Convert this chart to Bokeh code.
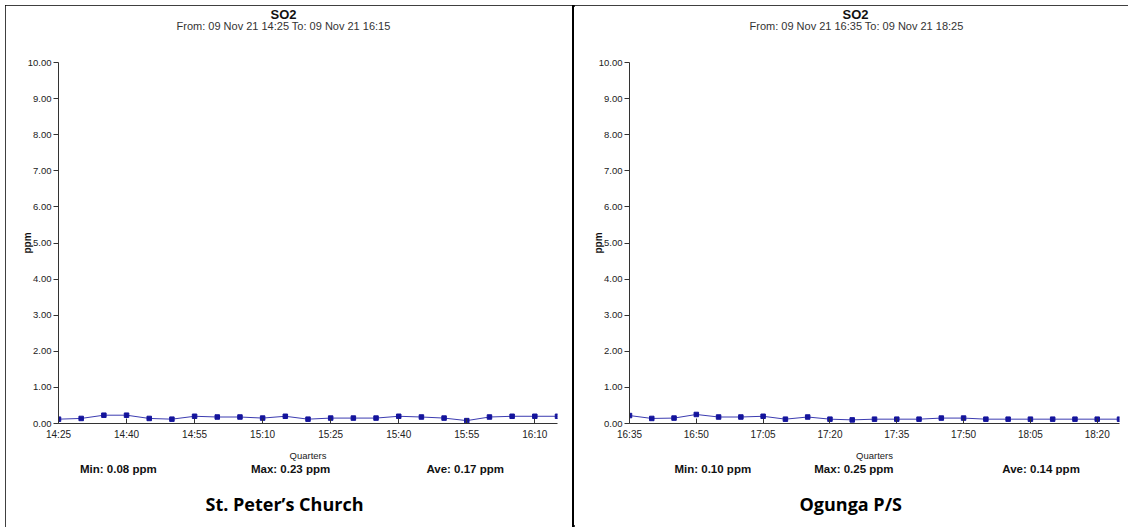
from bokeh.plotting import figure
from bokeh.layouts import row
from bokeh.models import Range1d, FixedTicker, Title, Div, LinearAxis
from bokeh.embed import file_html
from bokeh.resources import INLINE

# ---------------- data ----------------
times_left = ["14:25", "14:30", "14:35", "14:40", "14:45", "14:50", "14:55", "15:00",
              "15:05", "15:10", "15:15", "15:20", "15:25", "15:30", "15:35", "15:40",
              "15:45", "15:50", "15:55", "16:00", "16:05", "16:10", "16:15"]
so2_left = [0.12, 0.14, 0.23, 0.23, 0.14, 0.12, 0.20, 0.18, 0.18, 0.15, 0.20, 0.12,
            0.15, 0.15, 0.15, 0.20, 0.18, 0.15, 0.08, 0.18, 0.20, 0.20, 0.20]
ticks_left = ["14:25", "14:40", "14:55", "15:10", "15:25", "15:40", "15:55", "16:10"]

times_right = ["16:35", "16:40", "16:45", "16:50", "16:55", "17:00", "17:05", "17:10",
               "17:15", "17:20", "17:25", "17:30", "17:35", "17:40", "17:45", "17:50",
               "17:55", "18:00", "18:05", "18:10", "18:15", "18:20", "18:25"]
so2_right = [0.22, 0.14, 0.15, 0.25, 0.18, 0.18, 0.20, 0.12, 0.18, 0.12, 0.10, 0.12,
             0.12, 0.12, 0.15, 0.15, 0.12, 0.12, 0.12, 0.12, 0.12, 0.12, 0.12]
ticks_right = ["16:35", "16:50", "17:05", "17:20", "17:35", "17:50", "18:05", "18:20"]

y_ticks = [0, 1, 2, 3, 4, 5, 6, 7, 8, 9, 10]

title_text = "SO2"
subtitle_left = "From: 09 Nov 21 14:25 To: 09 Nov 21 16:15"
subtitle_right = "From: 09 Nov 21 16:35 To: 09 Nov 21 18:25"
stats_left = ["Min: 0.08 ppm", "Max: 0.23 ppm", "Ave: 0.17 ppm"]
stats_right = ["Min: 0.10 ppm", "Max: 0.25 ppm", "Ave: 0.14 ppm"]
caption_left = "St. Peter\u2019s Church"
caption_right = "Ogunga P/S"

FONT = "Liberation Sans"
H = 522


def to_min(t):
    h, m = t.split(":")
    return int(h) * 60 + int(m)


def panel(times, vals, ticks, subtitle, stats, caption, width, borders, lay):
    bl, br, bt, bb = borders
    x = [to_min(t) for t in times]
    x0, x1 = x[0], x[-1]
    p = figure(width=width, height=H, output_backend="svg", toolbar_location=None,
               x_range=Range1d(x0, x1), y_range=Range1d(0, 10),
               min_border_left=bl, min_border_right=br, min_border_top=bt,
               min_border_bottom=bb)
    p.outline_line_color = None
    p.grid.visible = False
    p.background_fill_color = "white"
    p.border_fill_color = "white"

    p.line(x, vals, line_color="#3b3bb0", line_width=1)
    p.scatter(x, vals, marker="square", size=4.5, color="#14149c")

    # ---- titles (first added sits closest to the frame)
    p.add_layout(Title(text=" ", standoff=20, text_font=FONT,
                       text_font_size="10px"), "above")          # gap under the subtitle
    p.add_layout(Title(text=subtitle, align="left", offset=lay["sub_off"],
                       standoff=-4, text_font=FONT, text_font_size="11px",
                       text_font_style="normal", text_color="#333333"), "above")
    p.add_layout(Title(text=title_text, align="left", offset=lay["title_off"],
                       standoff=-4, text_font=FONT, text_font_size="13px",
                       text_font_style="bold", text_color="#111111"), "above")

    # ---- x axis
    xa = p.xaxis[0]
    xa.ticker = FixedTicker(ticks=[to_min(t) for t in ticks])
    xa.major_label_overrides = {to_min(t): t for t in ticks}
    xa.major_tick_in = 5
    xa.major_tick_out = 0
    xa.minor_tick_line_color = None
    xa.axis_line_color = "#333333"
    xa.major_tick_line_color = "#333333"
    xa.major_label_text_font = FONT
    xa.major_label_text_font_size = "10px"
    xa.major_label_text_color = "#222222"
    xa.major_label_standoff = 5
    xa.axis_label = "Quarters"
    xa.axis_label_text_font = FONT
    xa.axis_label_text_font_size = "9.5px"
    xa.axis_label_text_font_style = "normal"
    xa.axis_label_text_color = "#222222"
    xa.axis_label_standoff = 7

    # ---- statistics row: an extra axis whose labels are the three summaries
    stat_pos = [x0 + f * (x1 - x0) for f in lay["stats_frac"]]
    sa = LinearAxis(ticker=FixedTicker(ticks=stat_pos),
                    major_label_overrides={v: s for v, s in zip(stat_pos, stats)})
    sa.axis_line_color = None
    sa.major_tick_line_color = None
    sa.minor_tick_line_color = None
    sa.major_tick_in = 0
    sa.major_tick_out = 0
    sa.major_label_standoff = -1
    sa.major_label_text_font = FONT
    sa.major_label_text_font_size = "11.5px"
    sa.major_label_text_font_style = "bold"
    sa.major_label_text_color = "#111111"
    p.add_layout(sa, "below")

    # ---- station caption
    p.add_layout(Title(text=caption, align="left", offset=lay["cap_off"],
                       standoff=24, text_font="Open Sans",
                       text_font_size="18px", text_font_style="bold",
                       text_color="#000000"), "below")

    # ---- y axis
    ya = p.yaxis[0]
    ya.ticker = FixedTicker(ticks=y_ticks)
    ya.major_label_overrides = {v: f"{v:.2f}" for v in y_ticks}
    ya.major_tick_in = 0
    ya.major_tick_out = 5
    ya.minor_tick_line_color = None
    ya.axis_line_color = "#333333"
    ya.major_tick_line_color = "#333333"
    ya.major_label_text_font = FONT
    ya.major_label_text_font_size = "9.5px"
    ya.major_label_text_color = "#222222"
    ya.major_label_standoff = 2
    ya.axis_label = "ppm"
    ya.axis_label_text_font = FONT
    ya.axis_label_text_font_size = "10px"
    ya.axis_label_text_font_style = "bold"
    ya.axis_label_text_color = "#111111"
    ya.axis_label_standoff = -8
    return p


left = panel(times_left, so2_left, ticks_left, subtitle_left, stats_left, caption_left,
             567, (53, 15, 57, 101),
             dict(title_off=212, sub_off=118,
                  stats_frac=[0.12, 0.465, 0.815], cap_off=147))
right = panel(times_right, so2_right, ticks_right, subtitle_right, stats_right, caption_right,
              554, (55, 9, 57, 101),
              dict(title_off=213, sub_off=120,
                   stats_frac=[0.17, 0.458, 0.84], cap_off=170))

divider = Div(text="", width=2, height=H, margin=0,
              styles={"background-color": "black"})

layout = row(left, divider, right, spacing=0, margin=(5, 0, 0, 5),
             styles={"outline": "2px solid black", "outline-offset": "-2px"})

open("out.html", "w").write(file_html(layout, INLINE))
